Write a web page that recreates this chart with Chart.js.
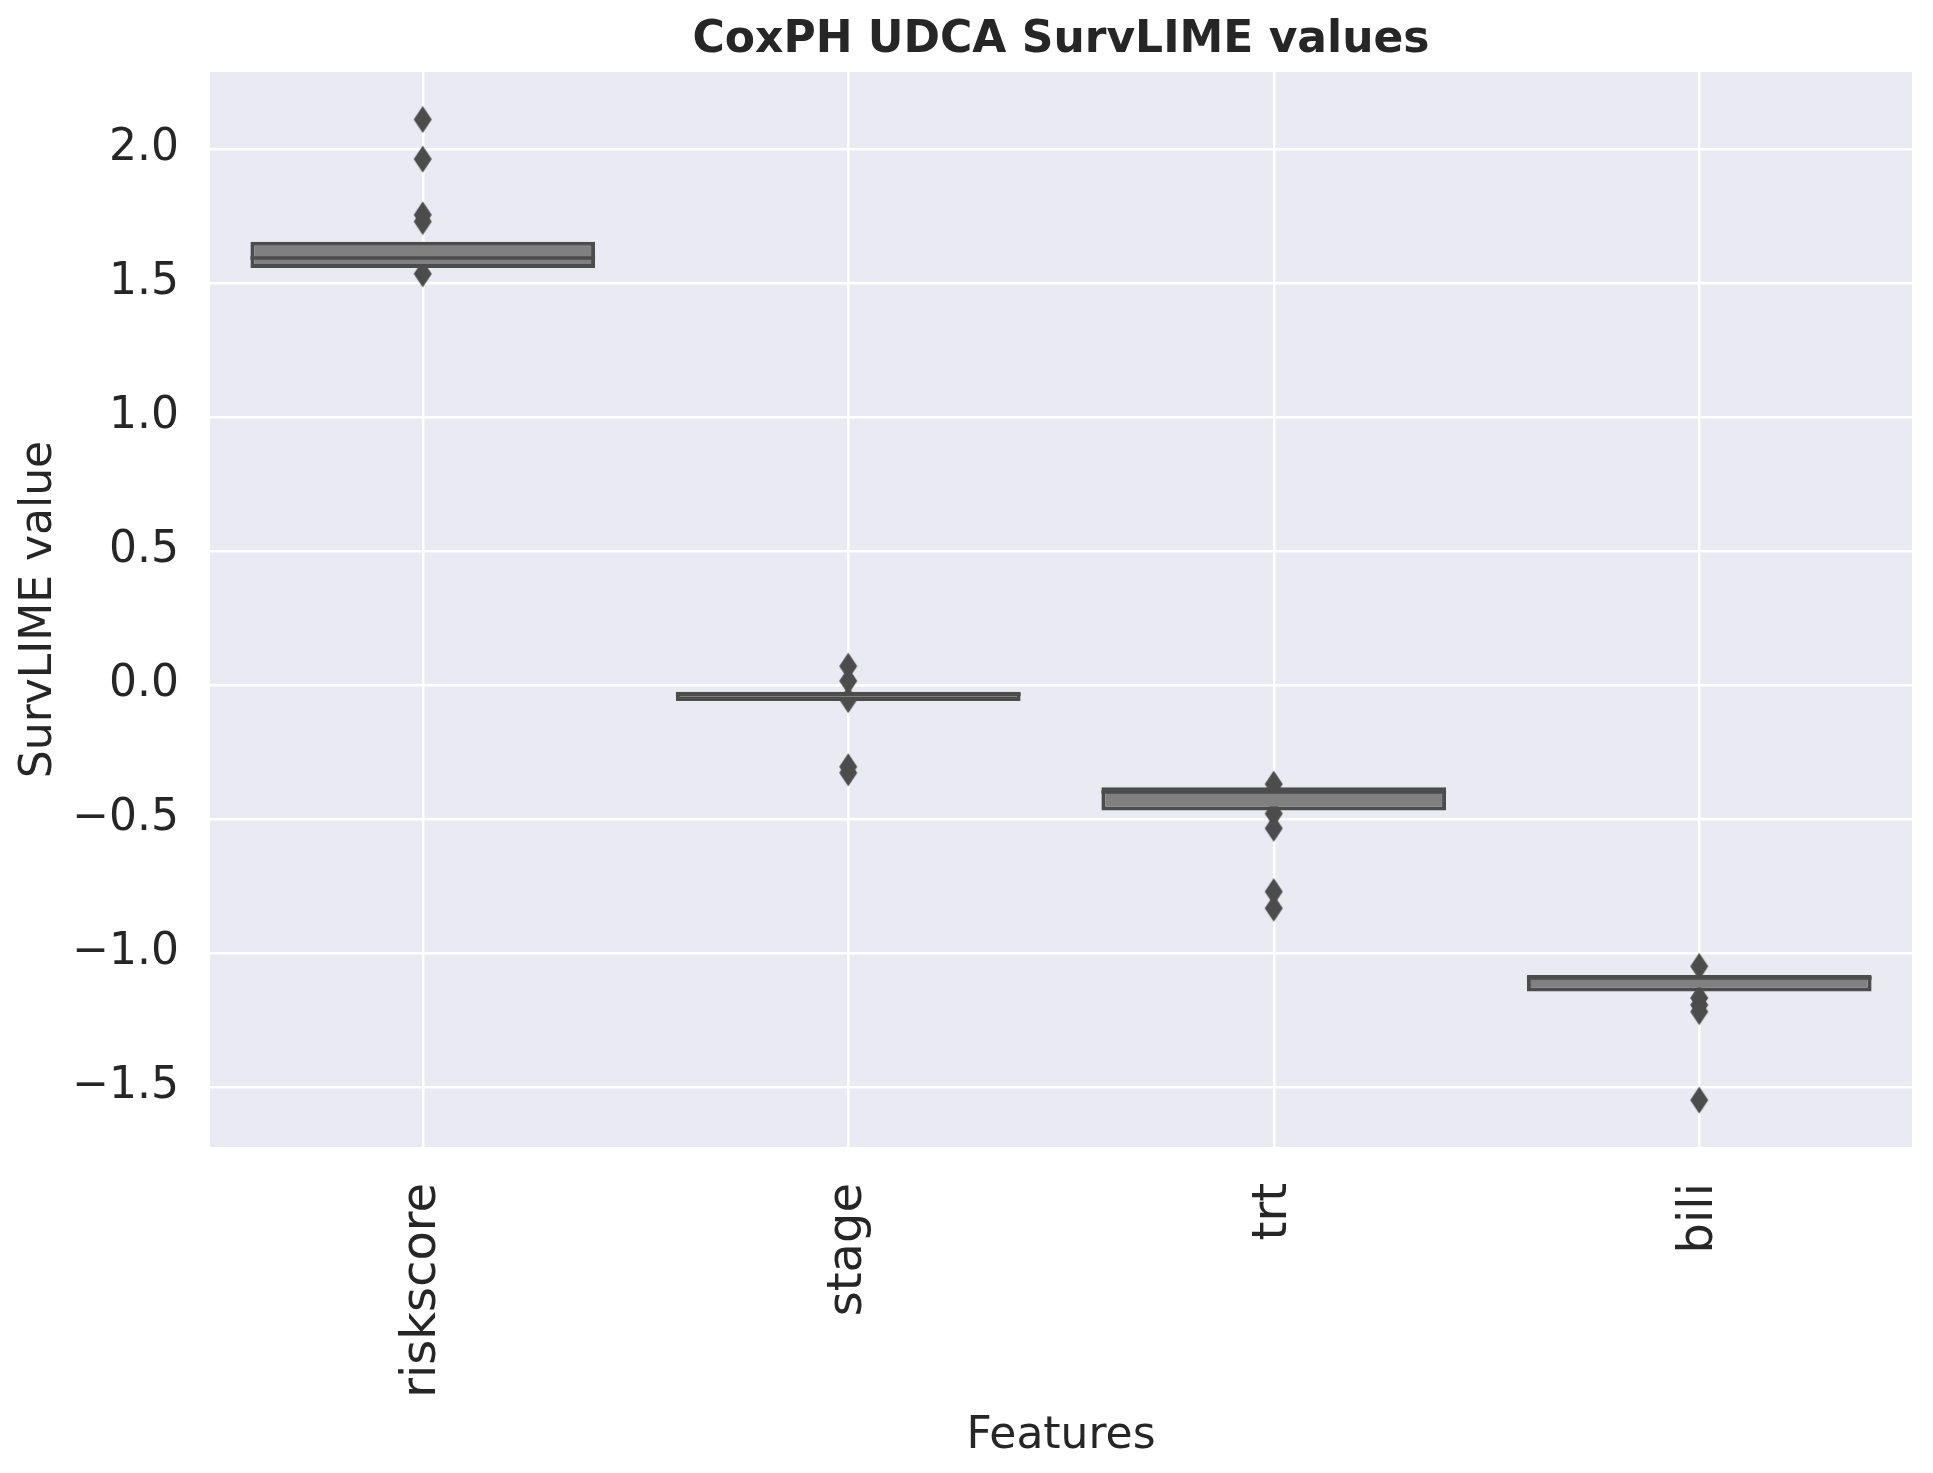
<!DOCTYPE html>
<html>
<head>
<meta charset="utf-8">
<script src="https://cdn.jsdelivr.net/npm/chart.js@4"></script>
<style>
  html, body { margin: 0; padding: 0; background: #ffffff; }
  #wrap { width: 1933px; height: 1473px; }
</style>
</head>
<body>
<div id="wrap"><canvas id="chartCanvas" width="1933" height="1473"></canvas></div>
<script>
const categories = ["riskscore", "stage", "trt", "bili"];
const q1Values = [1.556, -0.06, -0.468, -1.144];
const q3Values = [1.654, -0.025, -0.382, -1.082];
const medianValues = [1.593, -0.035, -0.399, -1.093];
const outlierValues = [
  [2.11, 1.962, 1.754, 1.729, 1.534],
  [0.07, 0.015, -0.055, -0.305, -0.328],
  [-0.37, -0.48, -0.535, -0.771, -0.833],
  [-1.05, -1.168, -1.194, -1.219, -1.549],
];
const yTicks = [-1.5, -1.0, -0.5, 0.0, 0.5, 1.0, 1.5, 2.0];

const DARK = "#4c4c4c";
const TEXT = "#262626";
const FONT = "'DejaVu Sans', sans-serif";

// thin diamond marker like matplotlib's "d"
function makeDiamond() {
  const c = document.createElement("canvas");
  c.width = 20;
  c.height = 28;
  const g = c.getContext("2d");
  g.fillStyle = DARK;
  g.beginPath();
  g.moveTo(10, 0.5);
  g.lineTo(19, 14);
  g.lineTo(10, 27.5);
  g.lineTo(1, 14);
  g.closePath();
  g.fill();
  return c;
}

const outlierPoints = [];
outlierValues.forEach((vals, i) => {
  vals.forEach((v) => outlierPoints.push({ x: categories[i], y: v }));
});

const backgroundPlugin = {
  id: "background",
  beforeDraw(chart) {
    const { ctx, chartArea: a } = chart;
    ctx.save();
    ctx.fillStyle = "#ffffff";
    ctx.fillRect(0, 0, chart.width, chart.height);
    ctx.fillStyle = "#EAEAF2";
    ctx.fillRect(a.left, a.top, a.right - a.left, a.bottom - a.top);
    ctx.restore();
  },
};

const medianPlugin = {
  id: "medians",
  afterDatasetsDraw(chart) {
    const { ctx } = chart;
    const y = chart.scales.y;
    const bars = chart.getDatasetMeta(0).data;
    ctx.save();
    ctx.strokeStyle = DARK;
    ctx.lineWidth = 3.5;
    bars.forEach((bar, i) => {
      const py = y.getPixelForValue(medianValues[i]);
      ctx.beginPath();
      ctx.moveTo(bar.x - bar.width / 2, py);
      ctx.lineTo(bar.x + bar.width / 2, py);
      ctx.stroke();
    });
    ctx.restore();
  },
};

const chart = new Chart(document.getElementById("chartCanvas"), {
  type: "bar",
  data: {
    labels: categories,
    datasets: [
      {
        data: categories.map((c, i) => [q1Values[i], q3Values[i]]),
        backgroundColor: "#808080",
        borderColor: DARK,
        borderWidth: 4,
        borderSkipped: false,
        barPercentage: 0.81,
        categoryPercentage: 1.0,
        order: 0,
      },
      {
        type: "line",
        data: outlierPoints,
        showLine: false,
        pointStyle: makeDiamond(),
        pointRadius: 10,
        order: 1,
      },
    ],
  },
  options: {
    responsive: false,
    devicePixelRatio: 1,
    animation: false,
    layout: { padding: { left: 0, right: 21, top: 0, bottom: 0 } },
    plugins: {
      legend: { display: false },
      tooltip: { enabled: false },
      title: {
        display: true,
        fullSize: false,
        text: "CoxPH UDCA SurvLIME values",
        color: TEXT,
        font: { family: FONT, size: 44, weight: "bold", lineHeight: 1.2 },
        padding: { top: 14, bottom: 5.2 },
      },
    },
    scales: {
      x: {
        offset: true,
        grid: { offset: false, color: "#ffffff", lineWidth: 2.5, drawTicks: false },
        border: { display: false },
        ticks: {
          color: TEXT,
          font: { family: FONT, size: 48 },
          minRotation: 90,
          maxRotation: 90,
          padding: 36,
        },
        title: {
          display: true,
          text: "Features",
          color: TEXT,
          font: { family: FONT, size: 44, lineHeight: 1.2 },
          padding: { top: 0, bottom: 9.6 },
        },
        afterFit(scale) {
          scale.height = 326;
        },
      },
      y: {
        min: -1.724,
        max: 2.287,
        grid: { color: "#ffffff", lineWidth: 2.5, drawTicks: false },
        border: { display: false },
        afterBuildTicks(scale) {
          scale.ticks = yTicks.map((v) => ({ value: v }));
        },
        ticks: {
          color: TEXT,
          font: { family: FONT, size: 44 },
          padding: 31,
          callback: (v) => (v < 0 ? "\u2212" : "") + Math.abs(v).toFixed(1),
        },
        title: {
          display: true,
          text: "SurvLIME value",
          color: TEXT,
          font: { family: FONT, size: 44, lineHeight: 1.2 },
          padding: { top: 13.6, bottom: 0 },
        },
        afterFit(scale) {
          scale.width = 210;
        },
      },
    },
  },
  plugins: [backgroundPlugin, medianPlugin],
});
</script>
</body>
</html>
